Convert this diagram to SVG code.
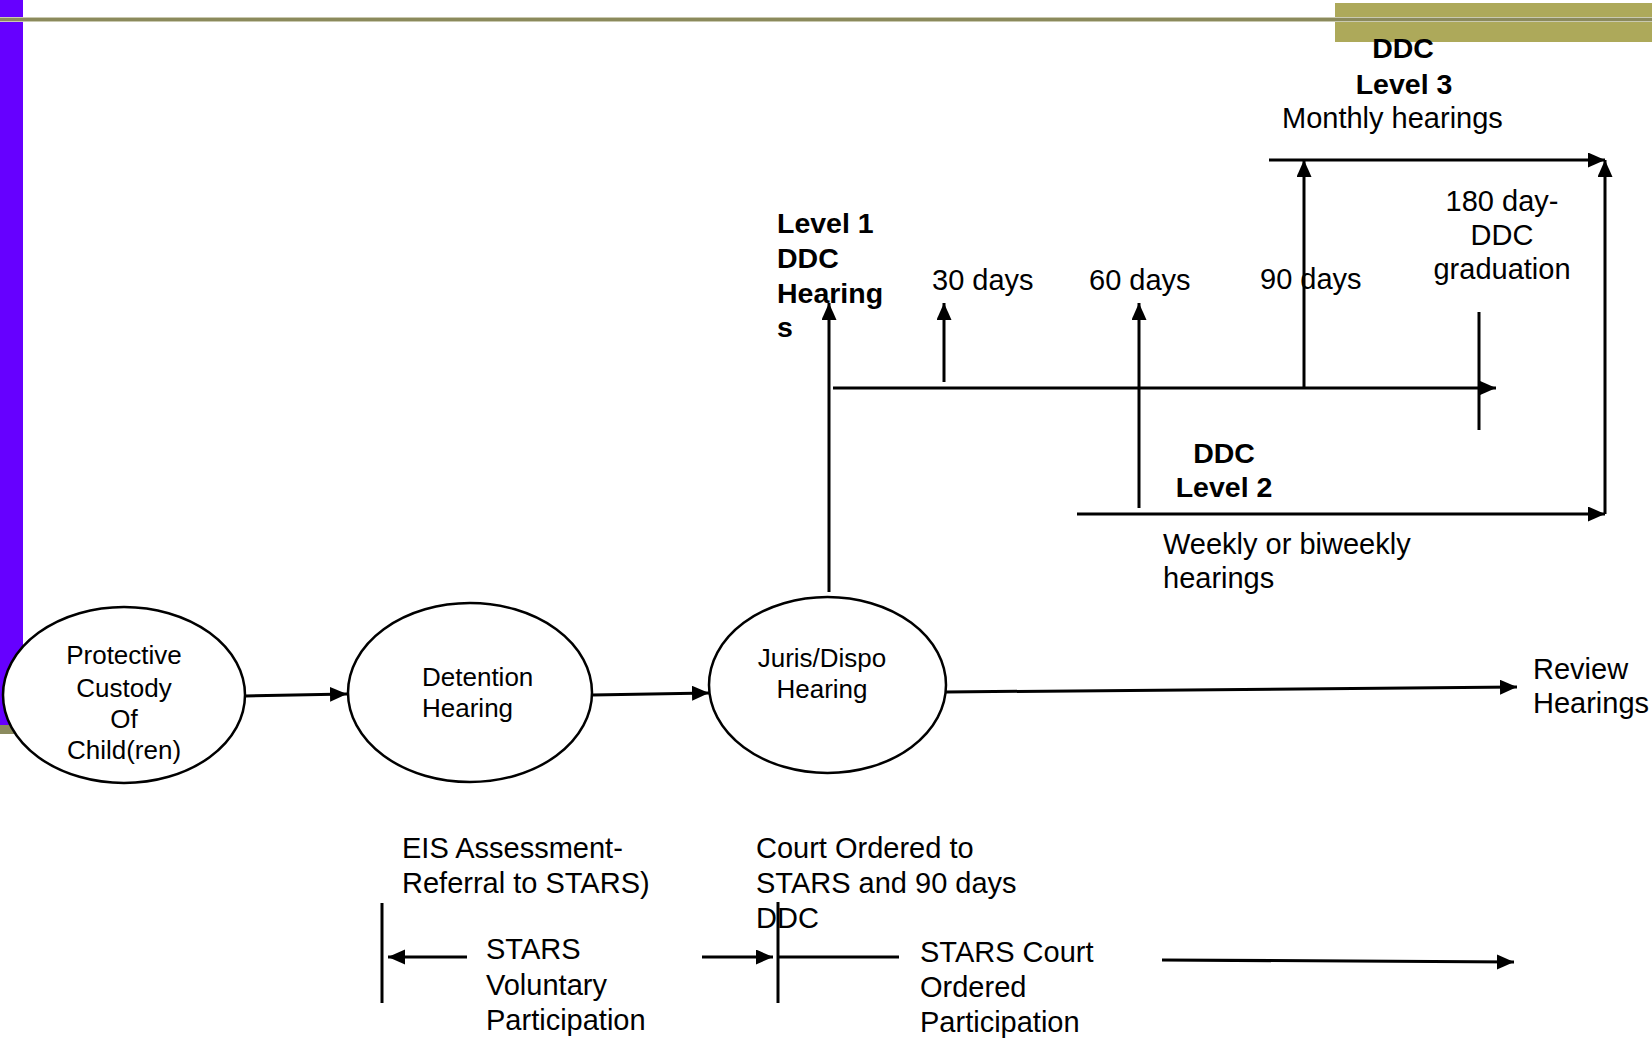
<svg xmlns="http://www.w3.org/2000/svg" width="1652" height="1038" viewBox="0 0 1652 1038">
<style>
text{font-family:"Liberation Sans",Arial,sans-serif;fill:#000}
.r{font-size:29px}
.b{font-size:28.5px;font-weight:bold}
.e{font-size:26px}
.m{text-anchor:middle}
.ln{stroke:#000;stroke-width:3;fill:none}
.ell{fill:#fff;stroke:#000;stroke-width:2.5}
</style>
<defs>
<marker id="ah" markerUnits="userSpaceOnUse" markerWidth="18" markerHeight="16" refX="17" refY="7.5" orient="auto">
<path d="M0,0 L17,7.5 L0,15 z" fill="#000"/>
</marker>
</defs>
<rect width="1652" height="1038" fill="#fff"/>
<g id="decor">
<rect x="0" y="0" width="23" height="725" fill="#6600ff"/>
<rect x="0" y="725" width="23" height="9" fill="#8b8b5e"/>
<rect x="1335" y="3" width="317" height="39" fill="#ada95a"/>
<rect x="0" y="17" width="1652" height="5" fill="#c9c9b0"/>
<rect x="0" y="18" width="1652" height="3" fill="#8b8a5c"/>
</g>
<g id="connectors">
<line class="ln" x1="829" y1="592" x2="829" y2="303" marker-end="url(#ah)"/>
<line class="ln" x1="833" y1="388" x2="1496" y2="388" marker-end="url(#ah)"/>
<line class="ln" x1="944" y1="382" x2="944" y2="303" stroke-width="2.5" marker-end="url(#ah)"/>
<line class="ln" x1="1139" y1="508" x2="1139" y2="303" marker-end="url(#ah)"/>
<line class="ln" x1="1304" y1="388" x2="1304" y2="160" marker-end="url(#ah)"/>
<line class="ln" x1="1269" y1="160" x2="1605" y2="160" marker-end="url(#ah)"/>
<line class="ln" x1="1605" y1="514" x2="1605" y2="160" marker-end="url(#ah)"/>
<line class="ln" x1="1077" y1="514" x2="1605" y2="514" marker-end="url(#ah)"/>
<line class="ln" x1="1479" y1="312" x2="1479" y2="430"/>
<line class="ln" x1="245" y1="696" x2="347" y2="694" marker-end="url(#ah)"/>
<line class="ln" x1="592" y1="695" x2="709" y2="693" marker-end="url(#ah)"/>
<line class="ln" x1="946" y1="692" x2="1517" y2="687" marker-end="url(#ah)"/>
<line class="ln" x1="382" y1="903" x2="382" y2="1003"/>
<line class="ln" x1="467" y1="957" x2="388" y2="957" marker-end="url(#ah)"/>
<line class="ln" x1="702" y1="957" x2="773" y2="957" marker-end="url(#ah)"/>
<line class="ln" x1="778" y1="902" x2="778" y2="1003"/>
<line class="ln" x1="778" y1="957" x2="899" y2="957"/>
<line class="ln" x1="1162" y1="960" x2="1514" y2="962" marker-end="url(#ah)"/>
</g>
<g id="node-protective">
<ellipse class="ell" cx="124" cy="695" rx="121" ry="88"/>
<text class="e m" x="124" y="664">Protective</text>
<text class="e m" x="124" y="697">Custody</text>
<text class="e m" x="124" y="728">Of</text>
<text class="e m" x="124" y="759">Child(ren)</text>
</g>
<g id="node-detention">
<ellipse class="ell" cx="470" cy="692.5" rx="122" ry="89.5"/>
<text class="e" x="422" y="686">Detention</text>
<text class="e" x="422" y="717">Hearing</text>
</g>
<g id="node-juris">
<ellipse class="ell" cx="827.5" cy="685" rx="118.5" ry="88"/>
<text class="e m" x="822" y="667">Juris/Dispo</text>
<text class="e m" x="822" y="698">Hearing</text>
</g>
<g id="labels">
<text class="b m" x="1403" y="58">DDC</text>
<text class="b m" x="1404" y="94">Level 3</text>
<text class="r" x="1282" y="128">Monthly hearings</text>
<text class="b" x="777" y="233">Level 1</text>
<text class="b" x="777" y="268">DDC</text>
<text class="b" x="777" y="303">Hearing</text>
<text class="b" x="777" y="337">s</text>
<text class="r" x="932" y="290">30 days</text>
<text class="r" x="1089" y="290">60 days</text>
<text class="r" x="1260" y="289">90 days</text>
<text class="r m" x="1502" y="211">180 day-</text>
<text class="r m" x="1502" y="245">DDC</text>
<text class="r m" x="1502" y="279">graduation</text>
<text class="b m" x="1224" y="463">DDC</text>
<text class="b m" x="1224" y="497">Level 2</text>
<text class="r" x="1163" y="554">Weekly or biweekly</text>
<text class="r" x="1163" y="588">hearings</text>
<text class="r" x="1533" y="679">Review</text>
<text class="r" x="1533" y="713">Hearings</text>
<text class="r" x="402" y="858">EIS Assessment-</text>
<text class="r" x="402" y="893">Referral to STARS)</text>
<text class="r" x="756" y="858">Court Ordered to</text>
<text class="r" x="756" y="893">STARS and 90 days</text>
<text class="r" x="756" y="928">DDC</text>
<text class="r" x="486" y="959">STARS</text>
<text class="r" x="486" y="995">Voluntary</text>
<text class="r" x="486" y="1030">Participation</text>
<text class="r" x="920" y="962">STARS Court</text>
<text class="r" x="920" y="997">Ordered</text>
<text class="r" x="920" y="1032">Participation</text>
</g>
</svg>
